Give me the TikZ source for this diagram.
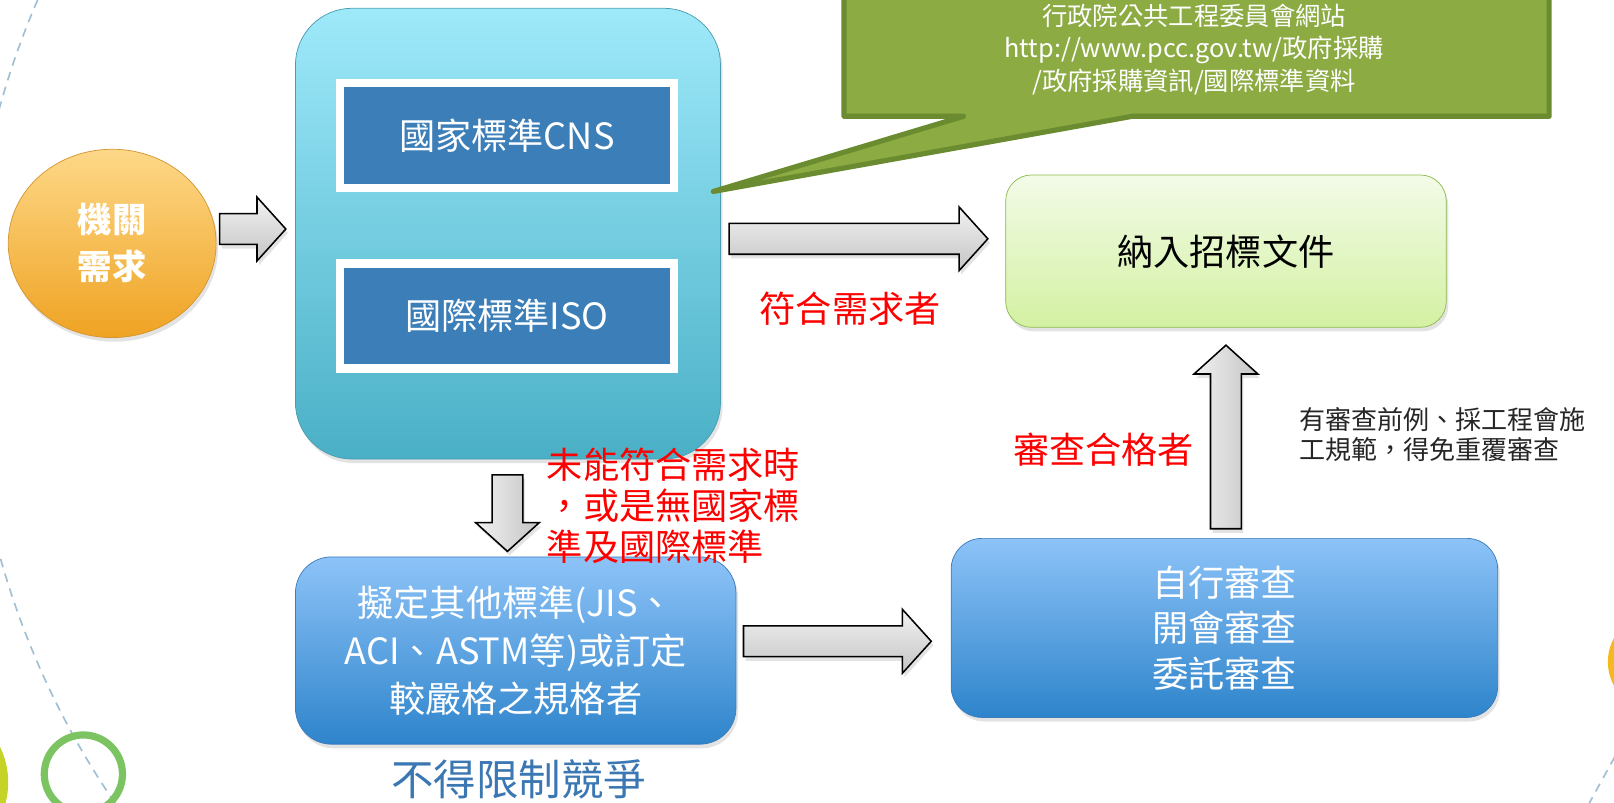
\documentclass[tikz,border=0pt]{standalone}
\usepackage{fontspec}
\setmainfont{Noto Sans CJK TC}
\usetikzlibrary{shapes.geometric, positioning, calc, shadows}

\definecolor{orangetop}{HTML}{FDD888}
\definecolor{orangebot}{HTML}{EFA323}
\definecolor{orangeedge}{HTML}{D49530}
\definecolor{tealtop}{HTML}{9EE9FA}
\definecolor{tealbot}{HTML}{4AB0C6}
\definecolor{tealedge}{HTML}{4A9CB0}
\definecolor{stripblue}{HTML}{3C7FB8}
\definecolor{pccgreen}{HTML}{8CAB43}
\definecolor{pccedge}{HTML}{6A8B2F}
\definecolor{doctop}{HTML}{F3FBE8}
\definecolor{docbot}{HTML}{D3F1A2}
\definecolor{docedge}{HTML}{8DBB4D}
\definecolor{bluetop}{HTML}{8DC3F8}
\definecolor{bluebot}{HTML}{2E84CB}
\definecolor{blueedge}{HTML}{3B7CBA}
\definecolor{limitblue}{HTML}{3A77B3}
\definecolor{decoline}{HTML}{A0BFD3}
\definecolor{ringgreen}{HTML}{7CC462}
\definecolor{limeball}{HTML}{C4D325}
\definecolor{yellowball}{HTML}{F4B921}
\definecolor{arrowlight}{HTML}{F2F2F2}
\definecolor{arrowdark}{HTML}{C4C4C4}

% horizontal block arrow: from #1 to the x of #2
\newcommand{\rblock}[2]{%
  \path (#1 -| #2) coordinate (bt);
  \draw[blockarrow, top color=arrowlight, bottom color=arrowdark]
    ($(#1)+(0,-15)$) -- ($(bt)+(-28,-15)$) -- ($(bt)+(-28,-31)$) -- (bt)
    -- ($(bt)+(-28,31)$) -- ($(bt)+(-28,15)$) -- ($(#1)+(0,15)$) -- cycle;}
% vertical block arrow: from #1 to the y of #2, #3 = 1 down, -1 up
\newcommand{\vblock}[3]{%
  \path (#1 |- #2) coordinate (bt);
  \draw[blockarrow, left color=arrowlight, right color=arrowdark]
    ($(#1)+(-15,0)$) -- ($(bt)+(-15,{-28*(#3)})$) -- ($(bt)+(-31,{-28*(#3)})$) -- (bt)
    -- ($(bt)+(31,{-28*(#3)})$) -- ($(bt)+(15,{-28*(#3)})$) -- ($(#1)+(15,0)$) -- cycle;}

\begin{document}
\begin{tikzpicture}[
    x=0.02cm, y=-0.02cm, % one unit is one pixel of the slide, y runs down
    softshadow/.style={drop shadow={opacity=0.22, shadow xshift=0.04cm, shadow yshift=-0.08cm}},
    needball/.style={ellipse, minimum width=4.04cm, minimum height=3.66cm, inner sep=0,
      draw=orangeedge, top color=orangetop, bottom color=orangebot, softshadow,
      text=white, align=center, font={\fontsize{19}{26}\selectfont\bfseries}},
    stdbox/.style={rectangle, rounded corners=1.1cm, minimum width=8.26cm, minimum height=8.76cm,
      draw=tealedge, top color=tealtop, bottom color=tealbot, softshadow},
    stdstrip/.style={rectangle, minimum width=6.5cm, minimum height=2.04cm, inner sep=0, outer sep=0,
      fill=stripblue, draw=white, line width=0.16cm, softshadow,
      text=white, font={\fontsize{20}{24}\selectfont}},
    pccbubble/.style={fill=pccgreen, draw=pccedge, line width=0.1cm, line join=round},
    docbox/.style={rectangle, rounded corners=0.5cm, minimum width=8.56cm, minimum height=2.96cm,
      draw=docedge, top color=doctop, bottom color=docbot, softshadow,
      font={\fontsize{20}{24}\selectfont}},
    bluebox/.style={rectangle, rounded corners=0.7cm, minimum width=8.56cm, minimum height=3.64cm,
      draw=blueedge, top color=bluetop, bottom color=bluebot, softshadow,
      text=white, align=center, font={\fontsize{20}{26.7}\selectfont}},
    redtxt/.style={text=red, inner sep=0, font={\fontsize{20}{22.7}\selectfont}},
    notetxt/.style={text=black!85, inner sep=0, font={\fontsize{14.4}{16.5}\selectfont}},
    blockarrow/.style={draw=black, line width=0.03cm, line join=miter, softshadow},
    deco/.style={draw=decoline, line width=0.032cm, dash pattern=on 0.17cm off 0.13cm},
  ]

  \useasboundingbox (0,0) rectangle (1568,780);
  \clip (0,0) rectangle (1568,780);

  % background decoration
  \begin{scope}
    \clip (0,0) rectangle (400,780);
    \draw[deco] (782,322) circle[radius=16.24cm];
  \end{scope}
  \draw[deco] (1543,782) -- (1570,733);
  \fill[limeball] (-70,760) circle[radius=1.56cm];
  \draw[ringgreen, line width=0.14cm] (81,752) circle[radius=0.76cm];
  \fill[yellowball] (1610,643) circle[radius=0.96cm];

  % boxes
  \node[needball] (need) at (109,236.5) {機關\\需求};
  \node[stdbox] (std) at (493.5,227) {};
  \node[stdstrip] (cns) at (492.5,132) {國家標準CNS};
  \node[stdstrip, below=1.46cm of cns] (iso) {國際標準ISO};
  \node[docbox] (doc) at (1191,244) {納入招標文件};
  \node[bluebox] (other) at (501,632) {擬定其他標準(JIS、\\ACI、ASTM等)或訂定\\較嚴格之規格者};
  \node[bluebox, minimum width=10.62cm, minimum height=3.48cm, rounded corners=0.6cm,
    font={\fontsize{20}{25.3}\selectfont}] (review) at (1189.5,610) {自行審查\\開會審查\\委託審查};

  % speech bubble
  \draw[pccbubble] (820,-40) -- (1505,-40) -- (1505,113) -- (1100,113) -- (693,186)
    -- (936,113) -- (820,113) -- cycle;
  \node[text=white, align=center, font={\fontsize{14}{17.9}\selectfont}] (pcc) at (1160,48)
    {行政院公共工程委員會網站\\http://www.pcc.gov.tw/政府採購\\/政府採購資訊/國際標準資料};

  % arrows
  \coordinate (a1s) at ($(need.east)+(3,-14)$);
  \coordinate (a1e) at ($(std.west)+(-9,0)$);
  \coordinate (a2s) at ($(std.east)+(8,5)$);
  \coordinate (a2e) at ($(doc.west)+(-17,0)$);
  \coordinate (a3s) at ($(std.south)+(-0.5,15)$);
  \coordinate (a3e) at ($(other.north)+(0,-5)$);
  \coordinate (a4s) at ($(other.east)+(7,-9)$);
  \coordinate (a4e) at ($(review.west)+(-19,0)$);
  \coordinate (a5s) at ($(review.north)+(1.5,-9)$);
  \coordinate (a5e) at ($(doc.south)+(0,17)$);
  \rblock{a1s}{a1e}
  \rblock{a2s}{a2e}
  \vblock{a3s}{a3e}{1}
  \rblock{a4s}{a4e}
  \vblock{a5s}{a5e}{-1}

  % labels
  \node[redtxt] (okl) at (826,300) {符合需求者};
  \node[redtxt] (pass) at (1072,437) {審查合格者};
  \node[redtxt, anchor=west, align=left] (fail) at (531,491) {未能符合需求時\\，或是無國家標\\準及國際標準};
  \node[notetxt, anchor=west, align=left] (note) at (1262,422) {有審查前例、採工程會施\\工規範，得免重覆審查};
  \node[text=limitblue, inner sep=0, font={\fontsize{23.5}{28}\selectfont}] (limit) at (504,757) {不得限制競爭};

\end{tikzpicture}
\end{document}
